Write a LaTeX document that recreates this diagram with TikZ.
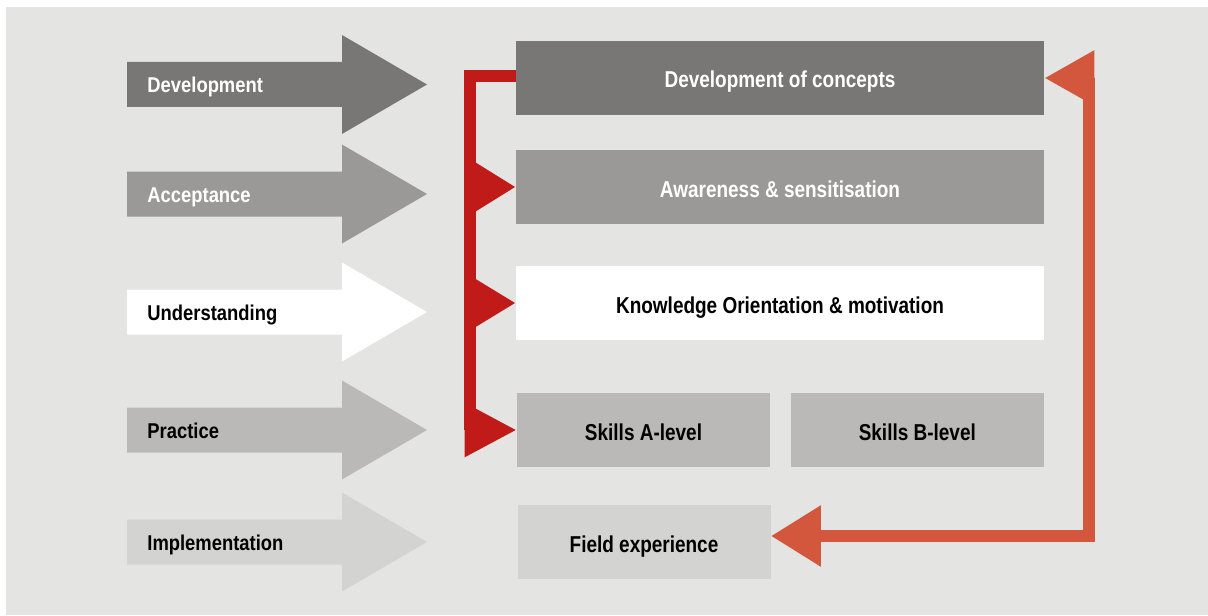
\documentclass[tikz,border=0pt]{standalone}
\usepackage{fontspec}
\setmainfont{Liberation Sans}[FakeStretch=0.86]
\newfontfamily\boxfont{Liberation Sans}[FakeStretch=0.825]
\usetikzlibrary{arrows.meta,positioning}
\definecolor{bgray}{HTML}{E4E4E2}
\definecolor{dgray}{HTML}{797775}
\definecolor{mgray}{HTML}{9A9997}
\definecolor{lgray}{HTML}{BAB9B7}
\definecolor{vlgray}{HTML}{D3D3D2}
\definecolor{darkred}{HTML}{C01B18}
\definecolor{brick}{HTML}{D2573D}

\begin{document}
\begin{tikzpicture}[x=0.5pt, y=-0.5pt,
    font=\fontsize{10.7}{12}\selectfont\bfseries,
    box/.style = {minimum width=264pt, minimum height=37pt, inner sep=0pt,
        text height=10pt, text depth=0pt, font=\boxfont\fontsize{11.5}{13}\selectfont\bfseries},
    half/.style = {box, minimum width=126.5pt},
    lbl/.style = {anchor=base west, inner sep=0pt},
    redline/.style = {draw=darkred, line width=6pt},
    brickline/.style = {draw=brick, line width=6pt}]
    \useasboundingbox (0,0) rectangle (1208,615);
    \fill[bgray] (6,7) rectangle (1208,615);

    % stage arrows
    \fill[dgray] (127,62) -- ++(215,0) -- ++(0,-27) -- ++(85,49.5) -- ++(-85,49.5) -- ++(0,-27) -- ++(-215,0) -- cycle;
    \fill[mgray] (127,171.5) -- ++(215,0) -- ++(0,-27) -- ++(85,49.5) -- ++(-85,49.5) -- ++(0,-27) -- ++(-215,0) -- cycle;
    \fill[white] (127,289.5) -- ++(215,0) -- ++(0,-27) -- ++(85,49.5) -- ++(-85,49.5) -- ++(0,-27) -- ++(-215,0) -- cycle;
    \fill[lgray] (127,407.5) -- ++(215,0) -- ++(0,-27) -- ++(85,49.5) -- ++(-85,49.5) -- ++(0,-27) -- ++(-215,0) -- cycle;
    \fill[vlgray] (127,519.5) -- ++(215,0) -- ++(0,-27) -- ++(85,49.5) -- ++(-85,49.5) -- ++(0,-27) -- ++(-215,0) -- cycle;

    \node[lbl, text=white] (ldev) at (147,92.5) {Development};
    \node[lbl, text=white] (lacc) at (147,202) {Acceptance};
    \node[lbl] (lund) at (147,320) {Understanding};
    \node[lbl] (lpra) at (147,438) {Practice};
    \node[lbl] (limp) at (147,550) {Implementation};

    % boxes
    \node[box, fill=dgray, text=white] (concepts) at (780,78) {Development of concepts};
    \node[box, fill=mgray, text=white] (aware) at (780,187) {Awareness \& sensitisation};
    \node[box, fill=white] (knowledge) at (780,303) {Knowledge Orientation \& motivation};
    \node[half, fill=lgray] (skillsa) at (643.5,430) {Skills A-level};
    \node[half, fill=lgray, right=10pt of skillsa] (skillsb) {Skills B-level};
    \node[half, fill=vlgray] (field) at (644,542) {Field experience};

    % connectors
    \coordinate (redbar) at (470,76);
    \draw[redline, -{Triangle[length=26pt, width=25.5pt]}] ([yshift=1pt]concepts.west) -- (redbar) |- (skillsa.west);
    \draw[redline, -{Triangle[length=20pt, width=23pt]}] (aware.west -| redbar) -- (aware.west);
    \draw[redline, -{Triangle[length=20pt, width=22.5pt]}] (knowledge.west -| redbar) -- (knowledge.west);

    \coordinate (brickbar) at (1089,300);
    \draw[brickline, {Triangle[length=25pt, width=26pt]}-{Triangle[length=25pt, width=29pt]}] (concepts.east) -| (brickbar) |- ([yshift=3pt]field.east);
\end{tikzpicture}
\end{document}
